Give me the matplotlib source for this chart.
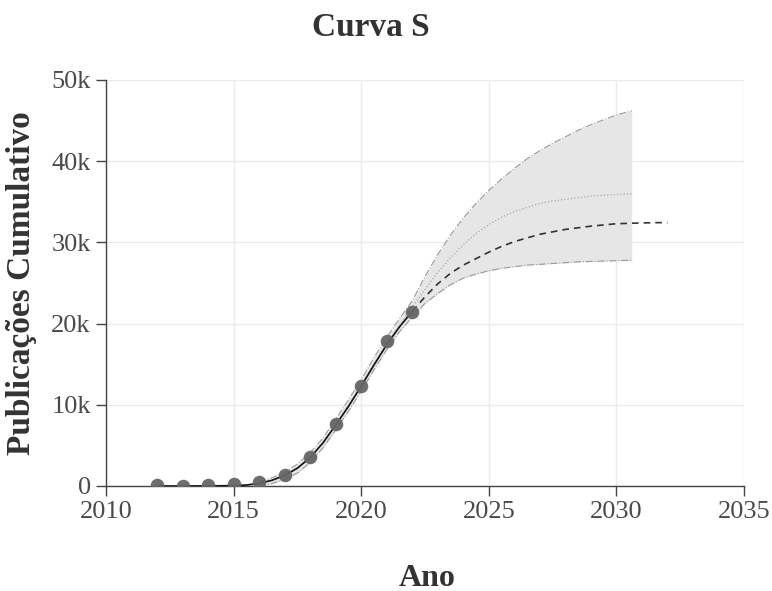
import matplotlib
matplotlib.use("Agg")
import matplotlib.pyplot as plt
from matplotlib.ticker import FuncFormatter

plt.rcParams['font.family'] = ['Liberation Serif', 'DejaVu Serif']

# observed cumulative publications
years = [2012, 2013, 2014, 2015, 2016, 2017, 2018, 2019, 2020, 2021, 2022]
pubs = [100, 60, 120, 200, 550, 1350, 3600, 7600, 12300, 17800, 21400]

# fitted S curve (solid)
fit_x = [2012, 2013, 2014, 2015, 2015.5, 2016, 2016.5, 2017, 2017.5, 2018, 2018.5,
         2019, 2019.5, 2020, 2020.5, 2021, 2021.5, 2022]
fit_y = [0, 0, 10, 50, 120, 320, 700, 1300, 2200, 3500, 5300,
         7500, 9800, 12300, 14900, 17400, 19600, 21500]

# forecast (dashed)
fc_x = [2022, 2022.5, 2023, 2023.5, 2024, 2024.5, 2025, 2025.5, 2026, 2027,
        2028, 2029, 2030, 2031, 2032]
fc_y = [21500, 23300, 24900, 26200, 27200, 28000, 28800, 29500, 30100, 31000,
        31600, 32000, 32300, 32400, 32450]

# uncertainty band
band_x = [2016, 2016.5, 2017, 2017.5, 2018, 2018.5, 2019, 2019.5, 2020, 2020.5,
          2021, 2021.5, 2022, 2022.5, 2023, 2023.5, 2024, 2024.5, 2025, 2025.5,
          2026, 2026.5, 2027, 2027.5, 2028, 2028.5, 2029, 2029.5, 2030, 2030.6]
band_lo = [0, 300, 800, 1600, 2900, 4700, 6900, 9200, 11700, 14300,
           16800, 19000, 20800, 22500, 23700, 24800, 25600, 26100, 26500, 26800,
           27000, 27200, 27300, 27400, 27500, 27600, 27650, 27700, 27750, 27800]
band_hi = [500, 1000, 1700, 2700, 4100, 5900, 8200, 10600, 13100, 15800,
           18300, 20600, 22800, 25800, 28500, 30900, 33000, 34800, 36400, 37800,
           39100, 40300, 41300, 42200, 43000, 43800, 44500, 45100, 45700, 46200]
band_mid = [250, 650, 1250, 2150, 3500, 5300, 7550, 9900, 12400, 15050,
            17550, 19800, 22000, 24200, 26300, 28100, 29700, 31100, 32200, 33100,
            33800, 34300, 34800, 35100, 35300, 35500, 35700, 35800, 35900, 36000]

fig = plt.figure(figsize=(7.72, 5.91), dpi=100)
ax = fig.add_axes([106 / 772, 1 - 486 / 591, 638 / 772, 406 / 591])

ax.fill_between(band_x, band_lo, band_hi, color='#e6e6e6', lw=0, zorder=1)
ax.plot(band_x, band_lo, color='#999999', lw=0.8, ls='-.', zorder=2)
ax.plot(band_x, band_hi, color='#999999', lw=0.8, ls='-.', zorder=2)
ax.plot(band_x, band_mid, color='#aaaaaa', lw=0.9, ls=':', zorder=2)
ax.plot(fc_x, fc_y, color='#333333', lw=1.2, ls=(0, (4, 3)), zorder=3)
ax.plot(fit_x, fit_y, color='#111111', lw=1.2, zorder=4)
ax.scatter(years, pubs, s=95, color='#666666', alpha=0.95, lw=0, zorder=5)

ax.set_xlim(2010, 2035)
ax.set_ylim(0, 50000)
ax.set_xticks([2010, 2015, 2020, 2025, 2030, 2035])
ax.set_yticks([0, 10000, 20000, 30000, 40000, 50000])
ax.yaxis.set_major_formatter(FuncFormatter(lambda v, p: '0' if v == 0 else f'{int(v / 1000)}k'))
ax.grid(True, color='#ebebeb', lw=1)
ax.set_axisbelow(True)
for s in ['top', 'right']:
    ax.spines[s].set_visible(False)
for s in ['left', 'bottom']:
    ax.spines[s].set_color('#444444')
    ax.spines[s].set_linewidth(1)
ax.tick_params(direction='out', length=7, width=1, color='#444444',
               labelsize=19, labelcolor='#4a4a4a', pad=4)

fig.text(371 / 772, 1 - 28 / 591, 'Curva S', ha='center', va='center',
         fontsize=24, fontweight='bold', color='#333333')
fig.text(427 / 772, 1 - 578 / 591, 'Ano', ha='center', va='center',
         fontsize=23, fontweight='bold', color='#333333')
fig.text(22 / 772, 1 - 283 / 591, 'Publicações Cumulativo', ha='center', va='center',
         rotation=90, fontsize=24, fontweight='bold', color='#333333')

fig.savefig('out.png', dpi=100)
